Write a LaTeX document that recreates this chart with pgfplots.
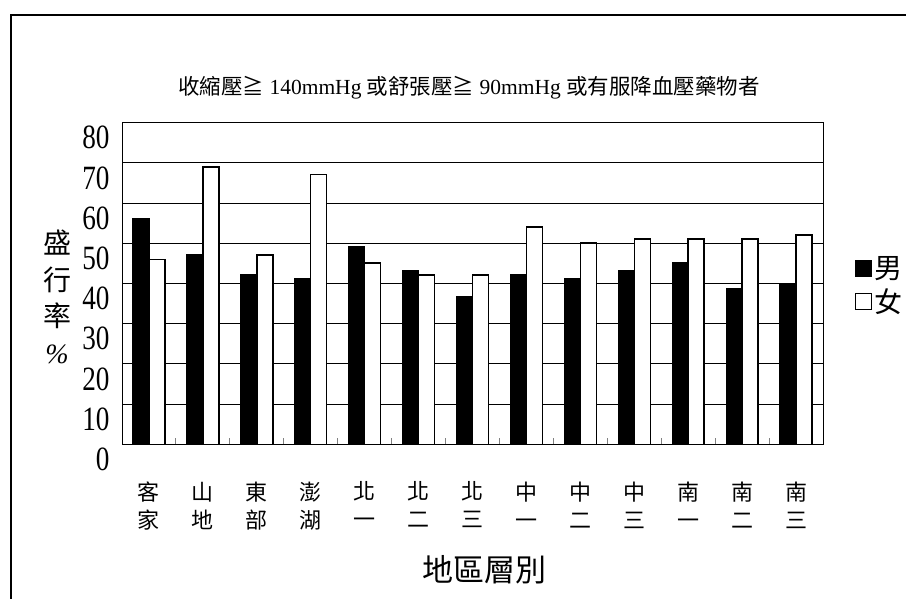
\documentclass[border=0pt]{standalone}
\usepackage{fontspec}
\setmainfont{Liberation Serif}
\newfontfamily\cjk{Noto Sans CJK TC}
\usepackage{pgfplots}
\pgfplotsset{compat=1.18}
\pgfplotsset{sqlegend/.style={legend image code/.code={\draw[##1] (0pt,-8pt) rectangle (16pt,8pt);}}}
\begin{document}
\begin{tikzpicture}[x=1pt,y=1pt]
\useasboundingbox (0,0) rectangle (906,-599);
\draw[line width=1.2pt] (11,-640) -- (11,-15) -- (940,-15);
\begin{axis}[
  at={(122pt,-444.3pt)}, anchor=south west,
  scale only axis, width=701pt, height=321.6pt,
  xmin=-0.5, xmax=12.5, ymin=0, ymax=80,
  ytick={0,10,...,80},
  ymajorgrids, grid style={black, line width=0.9pt},
  axis line style={black, line width=1pt},
  ytick style={draw=none},
  /pgf/number format/assume math mode=true,
  yticklabel style={font=\fontsize{34}{34}\selectfont, xscale=0.8, yshift=-15pt, anchor=east, xshift=-12pt},
  ybar=0pt, bar width=16pt,
  xtick={0.5,1.5,...,11.5}, xticklabels={},
  xtick pos=bottom, xtick align=inside,
  major tick length=6pt,
  x tick style={gray, line width=1pt},
  extra x ticks={0,1,...,12},
  extra x tick labels={{客\\家},{山\\地},{東\\部},{澎\\湖},{北\\一},{北\\二},{北\\三},{中\\一},{中\\二},{中\\三},{南\\一},{南\\二},{南\\三}},
  extra x tick style={major tick length=0pt, xticklabel style={font=\cjk\fontsize{22}{28}\selectfont, align=center, yshift=-34pt}},
  legend style={at={(axis description cs:1.045,0.494)}, anchor=west, draw=none, fill=none, font=\cjk\fontsize{28}{28}\selectfont, row sep=5pt, inner sep=0pt},
  legend cell align=left,
  clip=false,
]
\addplot[fill=black, draw=black, line width=1.2pt, sqlegend] coordinates {
(0,56.1) (1,47.2) (2,42.2) (3,41.2) (4,49.2) (5,43.2) (6,36.7) (7,42.2) (8,41.2) (9,43.3) (10,45.3) (11,38.7) (12,39.8)};
\addplot[fill=white, draw=black, line width=1.5pt, sqlegend] coordinates {
(0,46.0) (1,69.0) (2,47.1) (3,67.1) (4,45.1) (5,42.1) (6,42.1) (7,54.1) (8,50.1) (9,51.1) (10,51.1) (11,51.1) (12,52.1)};
\legend{男,女}
\end{axis}
\node[font=\fontsize{21.5}{21.5}\selectfont] at (469,-88) {{\cjk 收縮壓≧} 140mmHg {\cjk 或舒張壓≧} 90mmHg {\cjk 或有服降血壓藥物者}};
\node[font=\cjk\fontsize{28}{36.5}\selectfont, align=center] at (57,-297) {盛\\行\\率\\{\rmfamily\itshape\%}};
\node[font=\cjk\fontsize{31}{31}\selectfont] at (484,-570) {地區層別};
\end{tikzpicture}
\end{document}
